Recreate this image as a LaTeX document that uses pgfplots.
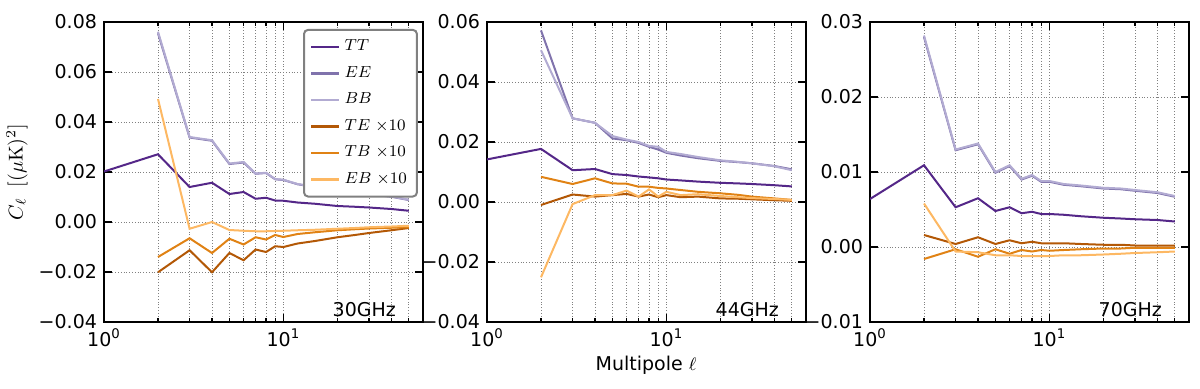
\documentclass[border=0pt]{standalone}
\usepackage{pgfplots}
\pgfplotsset{compat=1.18}
\usepackage[no-math]{fontspec}
\setmainfont{DejaVu Sans}
\definecolor{cTT}{HTML}{542788}
\definecolor{cEE}{HTML}{8073AC}
\definecolor{cBB}{HTML}{B2ABD2}
\definecolor{cTE}{HTML}{B35806}
\definecolor{cTB}{HTML}{E08214}
\definecolor{cEB}{HTML}{FDB863}
\pgfplotsset{
 legend image code/.code={\draw[#1, line width=1.3pt] (0pt,0pt) -- (14pt,0pt);},
 mypanel/.style={
  scale only axis, width=159.5pt, height=150pt,
  xmin=1, xmax=60,
  xtick={1,10}, xticklabels={10\textsuperscript{0},10\textsuperscript{1}},
  minor xtick={2,3,4,5,6,7,8,9,20,30,40,50},
  scaled y ticks=false,
  grid=both,
  major grid style={densely dotted, gray, line width=0.4pt},
  minor grid style={densely dotted, gray, line width=0.4pt},
  tick align=inside, tick pos=both,
  major tick length=4pt, minor tick length=2pt,
  axis line style={line width=1pt},
  every tick/.style={black, line width=0.6pt},
  tick label style={font=\fontsize{9.5}{10}\selectfont},
  every axis plot/.append style={line width=1pt, mark=none},
 },
}
\begin{document}
\begin{tikzpicture}
\path[use as bounding box] (0,0) rectangle (600pt,194pt);
% ---------------- 30 GHz
\begin{semilogxaxis}[mypanel, name=ax1, at={(52pt,33pt)}, anchor=south west,
  ymin=-0.04, ymax=0.08,
  ytick={-0.04,-0.02,0,0.02,0.04,0.06,0.08},
  yticklabels={−0.04,−0.02,0.00,0.02,0.04,0.06,0.08},
  ylabel={$C_\ell\;\;[(\mu\mathrm{K})^2]$},
  ylabel style={font=\fontsize{10}{11}\selectfont, inner sep=0pt},
  ylabel shift=2pt,
  legend style={at={(rel axis cs:0.984,0.977)}, anchor=north east, draw=gray, line width=1pt, rounded corners=2pt,
    font=\fontsize{8}{9}\selectfont, row sep=2.3pt, inner xsep=3pt, inner ysep=3pt,
    /tikz/every even column/.append style={column sep=4pt}},
  legend cell align=left]
\addplot[cTT] coordinates {(1,0.0202)(2,0.0271)(3,0.0140)(4,0.0157)(5,0.0112)(6,0.0120)(7,0.0093)(8,0.0097)(9,0.0086)(10,0.0085)(12,0.0078)(15,0.0073)(20,0.0064)(25,0.0061)(30,0.0058)(40,0.0052)(50,0.0045)};
\addlegendentry{$TT$}
\addplot[cEE] coordinates {(2,0.0755)(3,0.0338)(4,0.0325)(5,0.0232)(6,0.0238)(7,0.0193)(8,0.0196)(9,0.0171)(10,0.0168)(12,0.0151)(15,0.0140)(20,0.0124)(25,0.0118)(30,0.0111)(40,0.0101)(50,0.0088)};
\addlegendentry{$EE$}
\addplot[cBB] coordinates {(2,0.0761)(3,0.0340)(4,0.0327)(5,0.0234)(6,0.0240)(7,0.0194)(8,0.0197)(9,0.0172)(10,0.0169)(12,0.0152)(15,0.0141)(20,0.0125)(25,0.0119)(30,0.0112)(40,0.0102)(50,0.0089)};
\addlegendentry{$BB$}
\addplot[cTE] coordinates {(2,-0.0201)(3,-0.0113)(4,-0.0201)(5,-0.0124)(6,-0.0153)(7,-0.0110)(8,-0.0120)(9,-0.0097)(10,-0.0100)(12,-0.0086)(15,-0.0076)(20,-0.0061)(25,-0.0052)(30,-0.0044)(40,-0.0033)(50,-0.0024)};
\addlegendentry{$TE\ {\times}10$}
\addplot[cTB] coordinates {(2,-0.0140)(3,-0.0065)(4,-0.0124)(5,-0.0067)(6,-0.0090)(7,-0.0061)(8,-0.0070)(9,-0.0052)(10,-0.0060)(12,-0.0048)(15,-0.0041)(20,-0.0033)(25,-0.0029)(30,-0.0026)(40,-0.0023)(50,-0.0021)};
\addlegendentry{$TB\ {\times}10$}
\addplot[cEB] coordinates {(2,0.0492)(3,-0.0027)(4,0.0000)(5,-0.0032)(6,-0.0035)(7,-0.0037)(8,-0.0037)(9,-0.0036)(10,-0.0035)(12,-0.0033)(15,-0.0031)(20,-0.0027)(25,-0.0024)(30,-0.0021)(40,-0.0018)(50,-0.0015)};
\addlegendentry{$EB\ {\times}10$}
\node[anchor=base east, font=\fontsize{9.5}{10}\selectfont] at (rel axis cs:0.937,0.02) {30GHz};
\end{semilogxaxis}
% ---------------- 44 GHz
\begin{semilogxaxis}[mypanel, name=ax2, at={(243.5pt,33pt)}, anchor=south west,
  ymin=-0.04, ymax=0.06,
  ytick={-0.04,-0.02,0,0.02,0.04,0.06},
  yticklabels={−0.04,−0.02,0.00,0.02,0.04,0.06}]
\addplot[cTT] coordinates {(1,0.0142)(2,0.0177)(3,0.0106)(4,0.0110)(5,0.0093)(6,0.0090)(7,0.0085)(8,0.0082)(9,0.0079)(10,0.0075)(12,0.0072)(15,0.0068)(20,0.0064)(25,0.0062)(30,0.0060)(40,0.0056)(50,0.0052)};
\addplot[cEE] coordinates {(2,0.0572)(3,0.0279)(4,0.0264)(5,0.0212)(6,0.0206)(7,0.0197)(8,0.0184)(9,0.0175)(10,0.0164)(12,0.0155)(15,0.0146)(20,0.0137)(25,0.0133)(30,0.0129)(40,0.0120)(50,0.0109)};
\addplot[cBB] coordinates {(2,0.0506)(3,0.0279)(4,0.0264)(5,0.0220)(6,0.0208)(7,0.0200)(8,0.0187)(9,0.0184)(10,0.0167)(12,0.0160)(15,0.0150)(20,0.0139)(25,0.0134)(30,0.0129)(40,0.0119)(50,0.0106)};
\addplot[cTE] coordinates {(2,-0.0010)(3,0.0025)(4,0.0018)(5,0.0023)(6,0.0027)(7,0.0018)(8,0.0025)(9,0.0016)(10,0.0023)(12,0.0016)(15,0.0018)(20,0.0012)(25,0.0011)(30,0.0009)(40,0.0006)(50,0.0004)};
\addplot[cTB] coordinates {(2,0.0084)(3,0.0060)(4,0.0079)(5,0.0062)(6,0.0061)(7,0.0051)(8,0.0051)(9,0.0047)(10,0.0045)(12,0.0040)(15,0.0034)(20,0.0029)(25,0.0024)(30,0.0018)(40,0.0012)(50,0.0007)};
\addplot[cEB] coordinates {(2,-0.0251)(3,-0.0007)(4,0.0023)(5,0.0023)(6,0.0038)(7,0.0018)(8,0.0042)(9,0.0018)(10,0.0034)(12,0.0023)(15,0.0026)(20,0.0020)(25,0.0016)(30,0.0013)(40,0.0010)(50,0.0007)};
\node[anchor=base east, font=\fontsize{9.5}{10}\selectfont] at (rel axis cs:0.937,0.02) {44GHz};
\end{semilogxaxis}
\node[anchor=center, font=\fontsize{9.5}{10}\selectfont] at (323pt,11.5pt) {Multipole $\ell$};
% ---------------- 70 GHz
\begin{semilogxaxis}[mypanel, at={(435pt,33pt)}, anchor=south west,
  ymin=-0.01, ymax=0.03,
  ytick={-0.01,0,0.01,0.02,0.03},
  yticklabels={−0.01,0.00,0.01,0.02,0.03}]
\addplot[cTT] coordinates {(1,0.0064)(2,0.0109)(3,0.0053)(4,0.0065)(5,0.0048)(6,0.0053)(7,0.0045)(8,0.0047)(9,0.0044)(10,0.0044)(12,0.0043)(15,0.0041)(20,0.0039)(25,0.0038)(30,0.0037)(40,0.0036)(50,0.0034)};
\addplot[cEE] coordinates {(2,0.0280)(3,0.0129)(4,0.0137)(5,0.0099)(6,0.0108)(7,0.0090)(8,0.0095)(9,0.0087)(10,0.0087)(12,0.0083)(15,0.0081)(20,0.0078)(25,0.0077)(30,0.0075)(40,0.0072)(50,0.0067)};
\addplot[cBB] coordinates {(2,0.0282)(3,0.0130)(4,0.0138)(5,0.0100)(6,0.0109)(7,0.0091)(8,0.0096)(9,0.0088)(10,0.0088)(12,0.0084)(15,0.0082)(20,0.0079)(25,0.0078)(30,0.0076)(40,0.0073)(50,0.0068)};
\addplot[cTE] coordinates {(2,0.0016)(3,0.0004)(4,0.0013)(5,0.0004)(6,0.0009)(7,0.0005)(8,0.0007)(9,0.0005)(10,0.0005)(12,0.0005)(15,0.0004)(20,0.0003)(25,0.0003)(30,0.0002)(40,0.0002)(50,0.0002)};
\addplot[cTB] coordinates {(2,-0.0016)(3,-0.0003)(4,-0.0013)(5,-0.0003)(6,-0.0009)(7,-0.0004)(8,-0.0006)(9,-0.0004)(10,-0.0005)(12,-0.0004)(15,-0.0003)(20,-0.0002)(25,-0.0002)(30,-0.0001)(40,-0.0001)(50,-0.0001)};
\addplot[cEB] coordinates {(2,0.0058)(3,-0.0006)(4,-0.0007)(5,-0.0011)(6,-0.0011)(7,-0.0012)(8,-0.0012)(9,-0.0012)(10,-0.0012)(12,-0.0011)(15,-0.0011)(20,-0.0010)(25,-0.0009)(30,-0.0008)(40,-0.0007)(50,-0.0006)};
\node[anchor=base east, font=\fontsize{9.5}{10}\selectfont] at (rel axis cs:0.937,0.02) {70GHz};
\end{semilogxaxis}
\end{tikzpicture}
\end{document}
